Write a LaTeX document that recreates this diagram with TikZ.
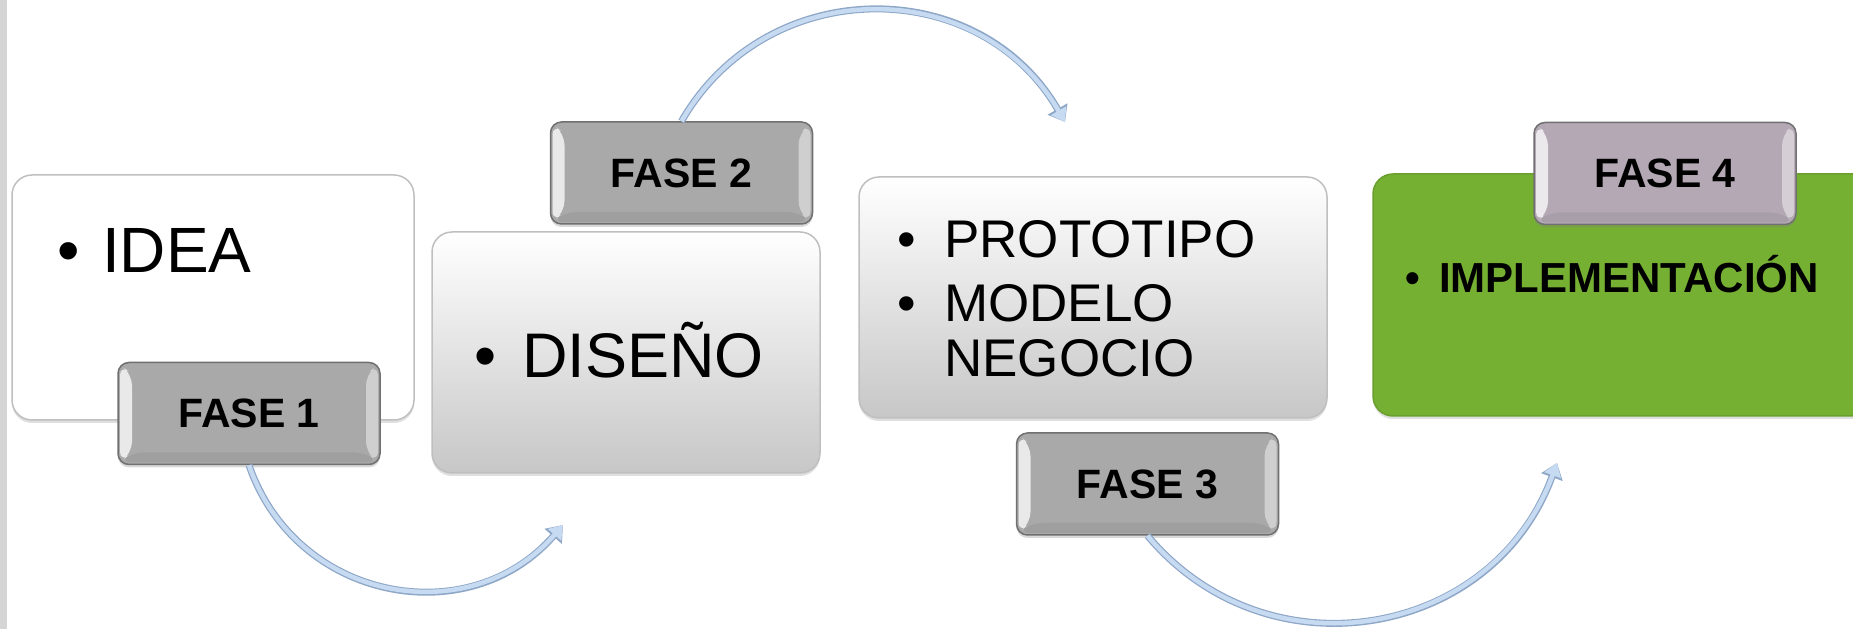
\documentclass[tikz,border=0pt]{standalone}
\usepackage{fontspec}
\setmainfont{Liberation Sans}
\usetikzlibrary{arrows.meta,shadows}
\definecolor{boxedge}{HTML}{BFBFBF}
\definecolor{tabfill}{HTML}{A9A9A9}
\definecolor{tabedge}{HTML}{707070}
\definecolor{tabfillfour}{HTML}{B3A8B4}
\definecolor{greenfill}{HTML}{76B033}
\definecolor{greenedge}{HTML}{6A9E2D}
\definecolor{arrowfill}{HTML}{C6DAF1}
\definecolor{arrowedge}{HTML}{8FA7C7}
\definecolor{stripgray}{HTML}{D5D5D5}
\tikzset{
  phase/.style={draw=boxedge, line width=1.5pt, rounded corners=20pt, inner sep=0pt,
    drop shadow={shadow xshift=0pt, shadow yshift=-3pt, opacity=.25}},
  shaded phase/.style={phase, top color=white, bottom color=black!22},
  bevel/.style={path picture={
    \fill[white,opacity=.75] ([shift={(2pt,-2pt)}]path picture bounding box.north west)
      -- ([shift={(14pt,-12pt)}]path picture bounding box.north west)
      -- ([shift={(14pt,12pt)}]path picture bounding box.south west)
      -- ([shift={(2pt,2pt)}]path picture bounding box.south west) -- cycle;
    \fill[white,opacity=.45] ([shift={(-2pt,-2pt)}]path picture bounding box.north east)
      -- ([shift={(-14pt,-12pt)}]path picture bounding box.north east)
      -- ([shift={(-14pt,12pt)}]path picture bounding box.south east)
      -- ([shift={(-2pt,2pt)}]path picture bounding box.south east) -- cycle;
    \fill[black,opacity=.06] ([shift={(14pt,12pt)}]path picture bounding box.south west)
      -- ([shift={(-14pt,12pt)}]path picture bounding box.south east)
      -- ([shift={(-2pt,2pt)}]path picture bounding box.south east)
      -- ([shift={(2pt,2pt)}]path picture bounding box.south west) -- cycle;}},
  fasetab/.style={draw=tabedge, line width=1.5pt, fill=tabfill, rounded corners=11pt,
    minimum width=262pt, minimum height=102pt, inner sep=0pt, bevel,
    drop shadow={shadow xshift=0pt, shadow yshift=-3pt, opacity=.3},
    font=\fontsize{41}{45}\selectfont\bfseries},
  bullettext/.style={anchor=base west, inner sep=0pt},
  flow/.style={line width=4.5pt, draw=arrowfill, -{Triangle[length=13pt, width=17pt]},
    preaction={draw=arrowedge, line width=7pt, -{Triangle[length=15pt, width=22pt]}}}
}
\newcommand{\bul}[1]{\makebox[#1][l]{\textbullet}}

\begin{document}
\begin{tikzpicture}[x=1pt, y=1pt]
  \clip (0,0) rectangle (1853,629);
  \fill[stripgray] (0,0) rectangle (7,629);

  \node[phase, fill=white, minimum width=402pt, minimum height=245pt] (idea) at (213,331.5) {};
  \node[bullettext, font=\fontsize{64}{70}\selectfont] (ideatxt) at (57,356) {\bul{45pt}IDEA};
  \node[fasetab] (fase1) at (249,215.5) {FASE 1};

  \node[shaded phase, minimum width=388pt, minimum height=241pt] (diseno) at (626,276.5) {};
  \node[bullettext, font=\fontsize{63}{68}\selectfont] (disenotxt) at (474,251) {\bul{48pt}DISEÑO};
  \node[fasetab] (fase2) at (681.5,456) {FASE 2};

  \node[shaded phase, minimum width=468pt, minimum height=241pt] (proto) at (1093,331.5) {};
  \node[bullettext, font=\fontsize{53}{56}\selectfont] (prototxt) at (897,371) {\bul{47pt}PROTOTIPO};
  \node[bullettext, font=\fontsize{53}{56}\selectfont] (modelotxt) at (897,307) {\bul{47pt}MODELO};
  \node[bullettext, font=\fontsize{53}{56}\selectfont] (negociotxt) at (944,252) {NEGOCIO};
  \node[fasetab] (fase3) at (1147.5,145) {FASE 3};

  \node[phase, draw=greenedge, fill=greenfill, minimum width=512pt, minimum height=242pt] (impl) at (1629,334) {};
  \node[bullettext, font=\fontsize{42}{46}\selectfont\bfseries] (impltxt) at (1405,336) {\bul{34pt}IMPLEMENTACIÓN};
  \node[fasetab, fill=tabfillfour] (fase4) at (1665,455.5) {FASE 4};

  \coordinate (tip1) at (563,104);
  \coordinate (tip2) at (1065,507);
  \coordinate (tip3) at (1557,166);
  \draw[flow] (fase1.south) to[out=-71, in=229, looseness=1.15] (tip1);
  \draw[flow] (fase2.north) to[out=60, in=120, looseness=1.14] (tip2);
  \draw[flow] (fase3.south) to[out=-50, in=-110, looseness=1.15] (tip3);
\end{tikzpicture}
\end{document}
